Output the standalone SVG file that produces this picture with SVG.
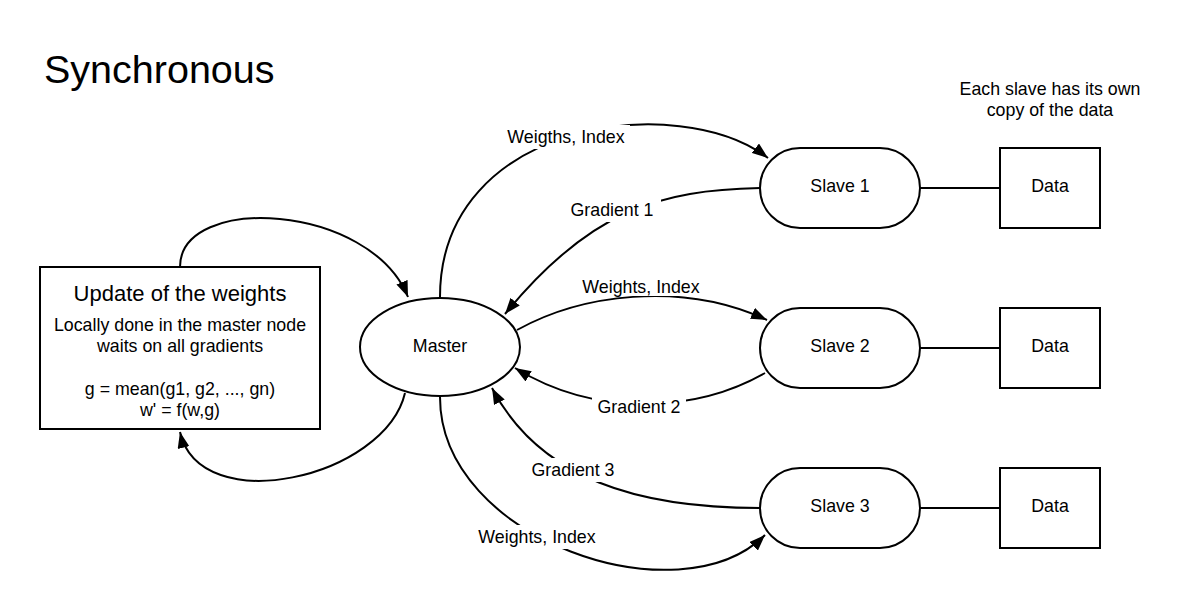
<svg xmlns="http://www.w3.org/2000/svg" width="1200" height="609" viewBox="0 0 1200 609">
<style>
text{font-family:"Liberation Sans",Arial,sans-serif;fill:#000}
.shape{fill:#fff;stroke:#000;stroke-width:2}
.conn{fill:none;stroke:#000;stroke-width:2}
.lbl{font-size:17.8px;text-anchor:middle}
.bg{fill:#fff;stroke:none}
.c{text-anchor:middle}
</style>
<defs>
<marker id="arr" viewBox="0 0 16 12" refX="16" refY="6" markerWidth="16" markerHeight="12" markerUnits="userSpaceOnUse" orient="auto">
<path d="M0,0 L16,6 L0,12 Z" fill="#000"/>
</marker>
</defs>
<rect width="1200" height="609" fill="#fff"/>
<text x="44" y="83" font-size="39.5">Synchronous</text>
<g id="note">
<text x="1050" y="95" font-size="17.8" class="c">Each slave has its own</text>
<text x="1050" y="116" font-size="17.8" class="c">copy of the data</text>
</g>
<g id="connectors">
<path class="conn" d="M180,267 C180,193 370,203 408,297" marker-end="url(#arr)"/>
<path class="conn" d="M405,393 C385,478 200,520 180,432" marker-end="url(#arr)"/>
<path class="conn" d="M440,297 C440,120 680,90 768,158" marker-end="url(#arr)"/>
<path class="conn" d="M760,188 C660,190 590,210 505,314" marker-end="url(#arr)"/>
<path class="conn" d="M517,330 C580,295 680,280 767,320" marker-end="url(#arr)"/>
<path class="conn" d="M765,373 C700,410 600,420 515,368" marker-end="url(#arr)"/>
<path class="conn" d="M760,508 C640,508 540,480 492,388" marker-end="url(#arr)"/>
<path class="conn" d="M440,397 C440,540 680,620 765,535" marker-end="url(#arr)"/>
<line class="conn" x1="920" y1="188" x2="1000" y2="188"/>
<line class="conn" x1="920" y1="348" x2="1000" y2="348"/>
<line class="conn" x1="920" y1="508" x2="1000" y2="508"/>
<rect class="bg" x="502" y="125" width="128" height="24"/>
<text class="lbl" x="566" y="143">Weigths, Index</text>
<rect class="bg" x="563" y="198" width="98" height="24"/>
<text class="lbl" x="612" y="216">Gradient 1</text>
<rect class="bg" x="578" y="275" width="126" height="21"/>
<text class="lbl" x="641" y="293">Weights, Index</text>
<rect class="bg" x="592" y="395" width="94" height="24"/>
<text class="lbl" x="639" y="413">Gradient 2</text>
<rect class="bg" x="526" y="458" width="94" height="24"/>
<text class="lbl" x="573" y="476">Gradient 3</text>
<rect class="bg" x="472" y="525" width="130" height="24"/>
<text class="lbl" x="537" y="543">Weights, Index</text>
</g>
<g id="update">
<rect class="shape" x="40" y="267" width="280" height="162"/>
<text x="180" y="301" font-size="22" class="c">Update of the weights</text>
<text x="180" y="331" font-size="17.8" class="c">Locally done in the master node</text>
<text x="180" y="352" font-size="17.8" class="c">waits on all gradients</text>
<text x="180" y="395" font-size="17.8" class="c">g = mean(g1, g2, ..., gn)</text>
<text x="180" y="416" font-size="17.8" class="c">w' = f(w,g)</text>
</g>
<g id="master">
<ellipse class="shape" cx="440" cy="347" rx="80" ry="49"/>
<text x="440" y="352" font-size="17.8" class="c">Master</text>
</g>
<g id="slave1">
<rect class="shape" x="760" y="148" width="160" height="80" rx="40" ry="40"/>
<text x="840" y="192" font-size="17.8" class="c">Slave 1</text>
</g>
<g id="slave2">
<rect class="shape" x="760" y="308" width="160" height="80" rx="40" ry="40"/>
<text x="840" y="352" font-size="17.8" class="c">Slave 2</text>
</g>
<g id="slave3">
<rect class="shape" x="760" y="468" width="160" height="80" rx="40" ry="40"/>
<text x="840" y="512" font-size="17.8" class="c">Slave 3</text>
</g>
<g id="data1">
<rect class="shape" x="1000" y="148" width="100" height="80"/>
<text x="1050" y="192" font-size="17.8" class="c">Data</text>
</g>
<g id="data2">
<rect class="shape" x="1000" y="308" width="100" height="80"/>
<text x="1050" y="352" font-size="17.8" class="c">Data</text>
</g>
<g id="data3">
<rect class="shape" x="1000" y="468" width="100" height="80"/>
<text x="1050" y="512" font-size="17.8" class="c">Data</text>
</g>
</svg>
